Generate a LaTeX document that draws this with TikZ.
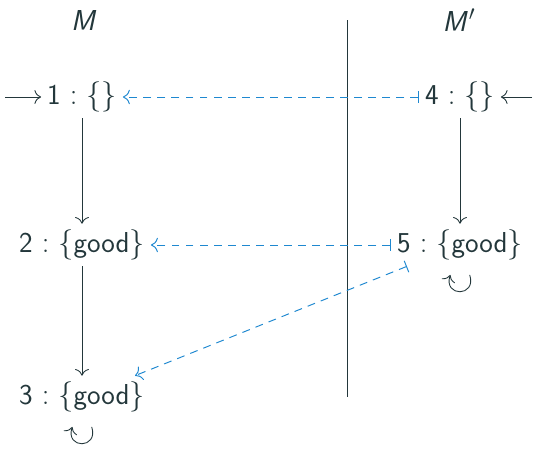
\documentclass[tikz,border=0pt]{standalone}
\usepackage{tikz}
\usetikzlibrary{positioning, arrows.meta}

\definecolor{ink}{HTML}{23373B}
\definecolor{link}{RGB}{30,136,208}

\begin{document}
\begin{tikzpicture}[
    font=\fontsize{16.4}{20}\selectfont\sffamily,
    every node/.style={text=ink},
    state/.style={inner sep=3.3pt},
    title/.style={font=\fontsize{16.4}{20}\selectfont\sffamily\itshape},
    arr/.style={-{Computer Modern Rightarrow[scale=1.4]}, draw=ink, line width=0.5pt},
    dep/.style={{Bar[width=7pt]}-{Computer Modern Rightarrow[scale=1.4]}, draw=link, line width=0.55pt, dash pattern=on 4.5pt off 3.5pt},
    self/.style={arr, out=-72, in=-108, loop, min distance=0.65cm, looseness=6, shorten <=0.18cm, shorten >=0.18cm}
]
\useasboundingbox (0,0) rectangle (10.76,-9.06);

\node[title] (m) at (1.66,-0.40) {M};
\node[title] (mp) at (9.18,-0.40) {M\kern1.5pt$'$};
\coordinate (top) at (6.94,-0.40);
\coordinate (bot) at (6.94,-7.94);
\draw[ink, line width=0.5pt] (top) -- (bot);

\node[state] (n1) at (1.64,-1.94) {1 $:$ $\{\}$};
\node[state] (n2) at (1.64,-4.90) {2 $:$ $\{$good$\}$};
\node[state] (n3) at (1.64,-7.94) {3 $:$ $\{$good$\}$};
\node[state] (n4) at (9.20,-1.94) {4 $:$ $\{\}$};
\node[state] (n5) at (9.20,-4.90) {5 $:$ $\{$good$\}$};

\coordinate (in1) at (0.10,-1.94);
\coordinate (in4) at (10.64,-1.94);

\draw[arr] (in1) -- (n1);
\draw[arr] (in4) -- (n4);
\draw[arr] (n1) -- (n2);
\draw[arr] (n2) -- (n3);
\draw[arr] (n4) -- (n5);
\draw[self] (n3) to (n3);
\draw[self] (n5) to (n5);

\draw[dep] (n4) -- (n1);
\draw[dep] (n5) -- (n2);
\draw[dep] (n5) -- (n3);
\end{tikzpicture}
\end{document}
